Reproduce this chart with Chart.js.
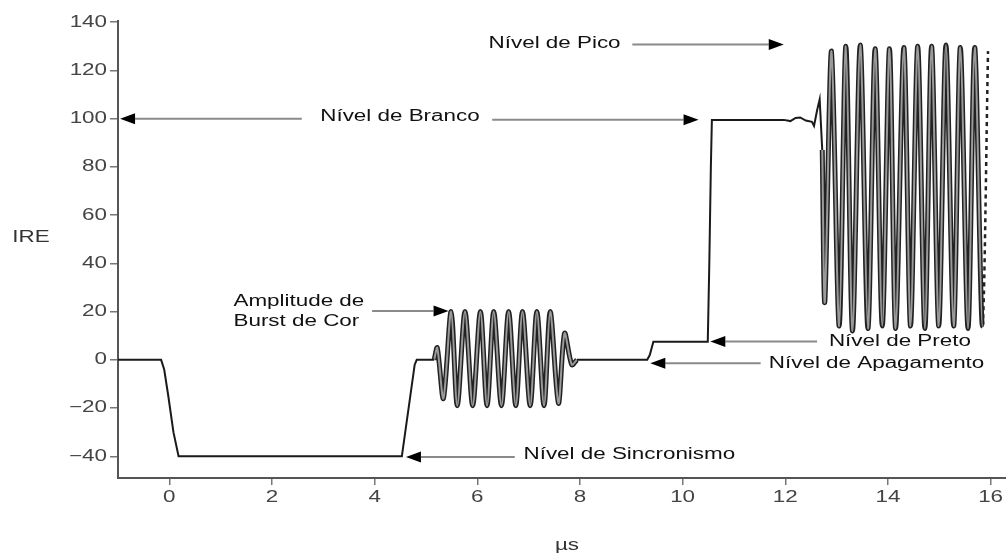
<!DOCTYPE html>
<html lang="pt-BR">
<head>
<meta charset="utf-8">
<title>Sinal de vídeo composto</title>
<script src="https://cdn.jsdelivr.net/npm/chart.js@4.4.1/dist/chart.umd.min.js"></script>
<style>
  html, body { margin: 0; padding: 0; background: #fff; }
  #grafico { display: block; }
</style>
</head>
<body>
<canvas id="grafico" width="1006" height="554"></canvas>
<script>
// Pontos: tempo em µs, amplitude em IRE

// Pulso de sincronismo e volta ao nível de apagamento
const tempoSinc = [-1, -0.16, -0.1, -0.02, 0.08, 0.18, 4.53, 4.78, 4.82, 5.16];
const valorSinc = [0, 0, -4, -15, -30, -40, -40, -2, 0, 0];

// Burst de cor
const tempoBurst = [5.16, 5.22, 5.34, 5.49, 5.61, 5.76, 5.91, 6.06, 6.19, 6.32, 6.47, 6.61, 6.75, 6.88, 7.03, 7.16, 7.3, 7.42, 7.58, 7.7, 7.84, 7.94];
const valorBurst = [0, 5, -16, 20, -19, 20, -19, 20, -19, 20, -19, 20, -19, 20, -19, 20, -19, 20, -18, 11, -2, 0];

// Nível de preto e subida para o branco
const tempoLuma = [7.94, 9.31, 9.36, 9.43, 10.49, 10.52, 10.55, 10.57, 11.97, 12.1, 12.2, 12.29, 12.4, 12.52, 12.56, 12.62, 12.67, 12.72];
const valorLuma = [0, 0, 2, 7.5, 7.5, 40, 80, 99.5, 99.5, 99, 100.3, 100.5, 99.2, 98.7, 97, 103.5, 108, 87];

// Croma até o nível de pico
const tempoCroma = [12.72, 12.77, 12.9, 13.05, 13.18, 13.31, 13.46, 13.61, 13.75, 13.89, 14.03, 14.15, 14.31, 14.44, 14.58, 14.72, 14.85, 14.99, 15.13, 15.28, 15.41, 15.56, 15.69, 15.84, 15.95];
const valorCroma = [87, 24, 128, 14, 130, 12, 130.5, 13, 129, 14, 129, 13, 129.5, 14, 130, 13, 130, 14, 130.5, 14, 129.5, 13, 129.5, 14, 128];

const ticksX = [0, 2, 4, 6, 8, 10, 12, 14, 16];
const ticksY = [-40, -20, 0, 20, 40, 60, 80, 100, 120, 140];

// Textos e setas das anotações (posição em unidades do gráfico)
const anotacoes = [
    { linhas: ['Nível de Pico'], x: 6.22, y: 131.3 },
    { linhas: ['Nível de Branco'], x: 2.94, y: 100.8 },
    { linhas: ['Amplitude de', 'Burst de Cor'], x: 1.25, y: 24.1 },
    { linhas: ['Nível de Sincronismo'], x: 6.9, y: -39.4 },
    { linhas: ['Nível de Preto'], x: 12.85, y: 7.6 },
    { linhas: ['Nível de Apagamento'], x: 11.68, y: -1.4 }
];
const setas = [
    { de: 9.02, ate: 11.97, y: 130.8 },
    { de: 2.58, ate: -0.96, y: 100 },
    { de: 6.29, ate: 10.31, y: 99.6 },
    { de: 3.95, ate: 5.44, y: 20.2 },
    { de: 6.73, ate: 4.61, y: -40.3 },
    { de: 12.62, ate: 10.54, y: 7.6 },
    { de: 11.52, ate: 9.37, y: -1.4 }
];

const ESTICAMENTO = 1.4; // a figura original está esticada na horizontal
const FONTE = '"Liberation Sans", Arial, sans-serif';

function pontos(tempos, valores) {
    return tempos.map((t, i) => ({ x: t, y: valores[i] }));
}

// Desenha o texto esticado na horizontal, como na figura
const esticarTexto = {
    id: 'esticarTexto',
    beforeDraw(chart) {
        const ctx = chart.ctx;
        if (ctx.fillTextOriginal) return;
        ctx.fillTextOriginal = ctx.fillText;
        ctx.fillText = function (texto, x, y) {
            this.save();
            this.translate(x, y);
            this.scale(ESTICAMENTO, 1);
            this.fillTextOriginal(texto, 0, 0);
            this.restore();
        };
    }
};

function desenharSeta(ctx, x1, x2, y) {
    const dir = Math.sign(x2 - x1);
    const comp = 15;
    ctx.strokeStyle = '#8a8a8a';
    ctx.lineWidth = 2;
    ctx.beginPath();
    ctx.moveTo(x1, y);
    ctx.lineTo(x2 - dir * comp, y);
    ctx.stroke();
    ctx.fillStyle = '#000';
    ctx.beginPath();
    ctx.moveTo(x2, y);
    ctx.lineTo(x2 - dir * comp, y - 5.5);
    ctx.lineTo(x2 - dir * comp, y + 5.5);
    ctx.closePath();
    ctx.fill();
}

const notas = {
    id: 'notas',
    afterDraw(chart) {
        const { ctx, scales: { x, y } } = chart;
        ctx.save();
        setas.forEach(s => desenharSeta(ctx, x.getPixelForValue(s.de), x.getPixelForValue(s.ate), y.getPixelForValue(s.y)));
        ctx.font = '16px ' + FONTE;
        ctx.fillStyle = '#111';
        ctx.textBaseline = 'middle';
        ctx.textAlign = 'left';
        anotacoes.forEach(a => {
            a.linhas.forEach((linha, i) => {
                ctx.fillText(linha, x.getPixelForValue(a.x), y.getPixelForValue(a.y) + i * 20);
            });
        });
        // títulos dos eixos
        ctx.fillStyle = '#333';
        ctx.textAlign = 'center';
        ctx.fillText('IRE', 31, 238);
        ctx.fillText('µs', 567, 546);
        ctx.restore();
    }
};

const ultimoCroma = tempoCroma.length - 1;

new Chart(document.getElementById('grafico'), {
    type: 'line',
    data: {
        datasets: [
            {
                data: pontos(tempoSinc, valorSinc),
                borderColor: '#1a1a1a', borderWidth: 2, tension: 0, order: 1
            },
            {
                data: pontos(tempoLuma, valorLuma),
                borderColor: '#1a1a1a', borderWidth: 2, tension: 0, order: 1
            },
            {
                data: pontos(tempoBurst, valorBurst),
                borderColor: '#9a9a9a', borderWidth: 2, tension: 0.3, order: 2
            },
            {
                data: pontos(tempoBurst, valorBurst),
                borderColor: '#222', borderWidth: 5, tension: 0.3, order: 3
            },
            {
                data: pontos(tempoCroma, valorCroma),
                borderColor: '#9a9a9a', borderWidth: 2, tension: 0.3, order: 2,
                segment: { borderColor: c => c.p1DataIndex === ultimoCroma ? 'rgba(0,0,0,0)' : undefined }
            },
            {
                data: pontos(tempoCroma, valorCroma),
                borderColor: '#222', borderWidth: 5, tension: 0.3, order: 3,
                segment: {
                    borderDash: c => c.p1DataIndex === ultimoCroma ? [4, 4] : undefined,
                    borderWidth: c => c.p1DataIndex === ultimoCroma ? 2.5 : undefined
                }
            }
        ]
    },
    options: {
        responsive: false,
        animation: false,
        events: [],
        layout: { padding: { top: 21, left: 0, right: 0, bottom: 0 } },
        elements: { point: { radius: 0 } },
        plugins: { legend: { display: false }, tooltip: { enabled: false } },
        scales: {
            x: {
                type: 'linear',
                min: -1,
                max: 16.3,
                afterBuildTicks: s => { s.ticks = ticksX.map(v => ({ value: v })); },
                afterFit: s => { s.height = 76; },
                border: { display: true, color: '#555', width: 2 },
                grid: { drawOnChartArea: false, drawTicks: true, tickLength: 7, color: '#777', lineWidth: 1.5 },
                ticks: { padding: 3, color: '#444', font: { family: FONTE, size: 16 }, maxRotation: 0 }
            },
            y: {
                min: -49,
                max: 140.5,
                afterBuildTicks: s => { s.ticks = ticksY.map(v => ({ value: v })); },
                afterFit: s => { s.width = 118; },
                border: { display: true, color: '#555', width: 2 },
                grid: { drawOnChartArea: false, drawTicks: true, tickLength: 8, color: '#777', lineWidth: 1.5 },
                ticks: {
                    padding: 3, color: '#444', font: { family: FONTE, size: 16 },
                    // sinal de menos tipográfico, como na figura
                    callback: v => String(v).replace('-', '\u2212')
                }
            }
        }
    },
    plugins: [esticarTexto, notas]
});
</script>
</body>
</html>
